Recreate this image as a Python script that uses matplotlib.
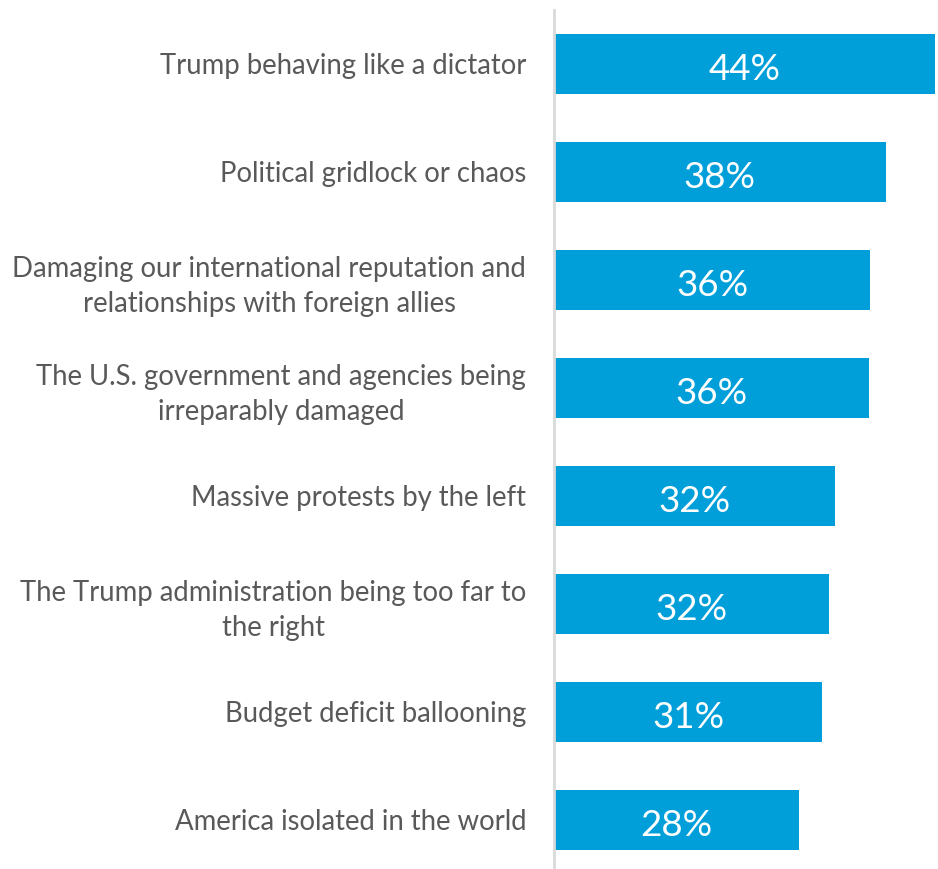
import matplotlib.pyplot as plt

# Survey items (top to bottom) and share of respondents
items = [
    'Trump behaving like a dictator',
    'Political gridlock or chaos',
    'Damaging our international reputation and\nrelationships with foreign allies',
    'The U.S. government and agencies being\nirreparably damaged',
    'Massive protests by the left',
    'The Trump administration being too far to\nthe right',
    'Budget deficit ballooning',
    'America isolated in the world',
]
values = [44.0, 38.3, 36.5, 36.4, 32.5, 31.8, 31.0, 28.3]
value_labels = ['44%', '38%', '36%', '36%', '32%', '32%', '31%', '28%']

plt.rcParams['font.family'] = ['Lato', 'DejaVu Sans']

fig = plt.figure(figsize=(9.38, 8.69), dpi=100)
ax = fig.add_axes([554 / 938, 0, 1 - 554 / 938, 1 - 10 / 869])

ypos = list(range(len(items)))
bars = ax.barh(ypos, values, height=0.555, color='#009FDA')

for bar, lab in zip(bars, value_labels):
    ax.text(bar.get_width() / 2, bar.get_y() + bar.get_height() / 2 + 0.02, lab,
            ha='center', va='center_baseline', color='white', fontsize=26.5)

ax.set_ylim(len(items) - 0.546, -0.5)
ax.set_xlim(0, values[0] * (938 - 554) / (935 - 554))

ax.set_yticks(ypos)
ax.set_yticklabels(items, fontsize=19.8, color='#595959', linespacing=1.4,
                   multialignment='center')
ax.tick_params(axis='y', length=0, pad=20)
ax.set_xticks([])

for side in ['top', 'right', 'bottom']:
    ax.spines[side].set_visible(False)
ax.spines['left'].set_color('#D9D9D9')
ax.spines['left'].set_linewidth(2)

fig.savefig('out.png', dpi=100)
